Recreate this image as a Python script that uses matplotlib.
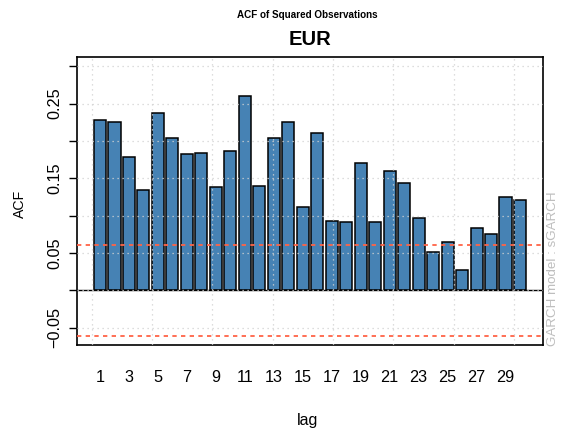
import numpy as np
import matplotlib
matplotlib.use("Agg")
import matplotlib.pyplot as plt

# squared observations ACF, lags 1..30
lags = np.arange(1, 31)
acf = [0.228, 0.225, 0.179, 0.134, 0.237, 0.204, 0.182, 0.184, 0.139, 0.186,
       0.260, 0.140, 0.2035, 0.226, 0.111, 0.211, 0.093, 0.0915, 0.170, 0.0915,
       0.160, 0.1435, 0.097, 0.0515, 0.0645, 0.027, 0.084, 0.0755, 0.125, 0.121]
clim = 0.0609
series_name = "EUR"
model_name = "GARCH model : sGARCH"

narrow = ['Liberation Sans Narrow', 'Nimbus Sans Narrow', 'Liberation Sans']
regular = ['Liberation Sans', 'DejaVu Sans']
plt.rcParams['font.family'] = regular

# barplot layout like R: width 1, space 0.2
xpos = 1.2 * lags - 0.5
xlo, xhi = 0.2, 1.2 * len(lags)
xpad = 0.04 * (xhi - xlo)
ylim = 1.2 * np.array([min(-clim, min(acf)), max(clim, max(acf))])

fig = plt.figure(figsize=(5.61, 4.34), dpi=100)
ax = fig.add_axes([0.1367, 0.2051, 0.8318, 0.6629])

ax.bar(xpos, acf, width=1.0, color='steelblue', edgecolor='black', linewidth=1.1, zorder=2)
ax.axhline(clim, color='#FF6347', ls=(0, (2.4, 2.4)), lw=1.3, zorder=3)
ax.axhline(-clim, color='#FF6347', ls=(0, (2.4, 2.4)), lw=1.3, zorder=3)
ax.axhline(0, color='black', lw=1.0, zorder=3)

# R grid(): dotted lightgray on top
yt = np.arange(-0.05, 0.301, 0.05)
for g in np.arange(0, 36, 5):
    ax.axvline(g, color='lightgray', ls=(0, (1, 3)), lw=0.9, zorder=4)
for g in yt:
    ax.axhline(g, color='lightgray', ls=(0, (1, 3)), lw=0.9, zorder=4)

ax.set_xlim(xlo - xpad, xhi + xpad)
ax.set_ylim(ylim[0], ylim[1])

odd = lags[::2]
ax.set_xticks(1.2 * odd - 0.5)
ax.set_xticklabels([str(k) for k in odd], family=narrow, fontsize=11.7)
ax.tick_params(axis='x', length=0, pad=18)

ylabs = []
for v in yt:
    if abs(round(v * 100)) % 10 == 5:
        ylabs.append(("%.2f" % v).replace('-', '\u2212'))
    else:
        ylabs.append('')
ax.set_yticks(yt)
ax.set_yticklabels(ylabs, rotation=90, va='center', fontsize=11.7)
ax.tick_params(axis='y', length=6, width=1.0, pad=4.5)

for s in ax.spines.values():
    s.set_linewidth(1.2)

fig.text(0.548, 0.966, "ACF of Squared Observations", ha='center', va='center',
         fontsize=7.1, fontweight='bold', family=narrow)
fig.text(0.5527, 0.910, series_name, ha='center', va='center', fontsize=14.5,
         fontweight='bold', family=narrow)
fig.text(0.549, 1 - 420 / 434, "lag", ha='center', va='center', fontsize=11.5, family=narrow)
fig.text(20 / 561, 1 - 204 / 434, "ACF", ha='center', va='center', rotation=90, fontsize=10.2)
fig.text(552.5 / 561, 1 - 346 / 434, model_name, ha='center', va='bottom', rotation=90,
         fontsize=9.6, color='#BEBEBE')

fig.savefig("out.png", dpi=100)
